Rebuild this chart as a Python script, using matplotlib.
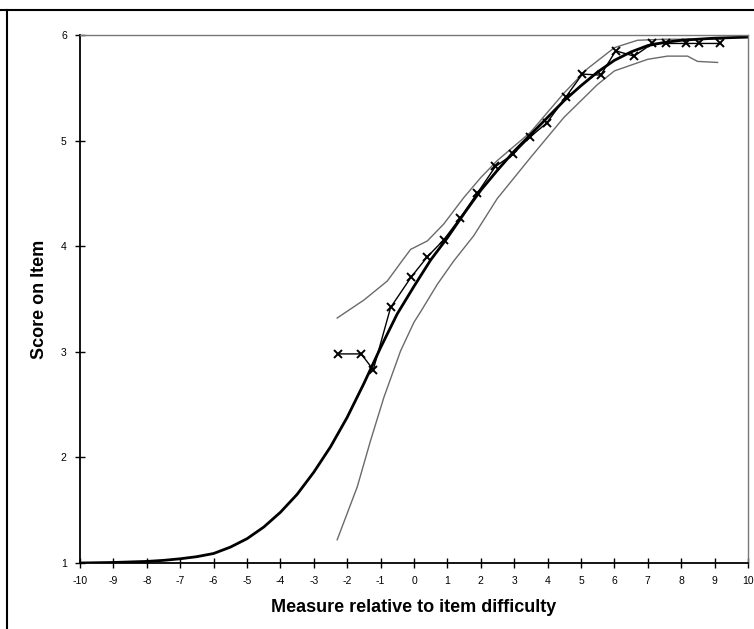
import matplotlib
matplotlib.use("Agg")
import matplotlib.pyplot as plt
from matplotlib.lines import Line2D

plt.rcParams['font.family'] = ['Liberation Sans', 'DejaVu Sans']
plt.rcParams['axes.unicode_minus'] = False

# Expected (model) score curve
model_x = [-10, -9, -8, -7.5, -7, -6.5, -6, -5.5, -5, -4.5, -4, -3.5, -3, -2.5, -2,
           -1.5, -1, -0.5, 0, 0.5, 1, 1.5, 2, 2.5, 3.0, 3.5, 4.0, 4.5, 5.0, 5.5,
           6.0, 6.5, 7.0, 7.5, 8.0, 9.0, 10.0]
model_y = [1.0, 1.005, 1.015, 1.025, 1.04, 1.06, 1.09, 1.15, 1.23, 1.34, 1.48, 1.65,
           1.86, 2.10, 2.38, 2.70, 3.04, 3.36, 3.62, 3.87, 4.08, 4.31, 4.53, 4.72,
           4.90, 5.06, 5.22, 5.38, 5.52, 5.65, 5.76, 5.84, 5.90, 5.93, 5.95, 5.97, 5.98]

# Upper confidence band
upper_x = [-2.3, -1.5, -0.8, -0.36, -0.1, 0.4, 0.89, 1.49, 2.0, 2.49, 3.49, 4.49,
           5.19, 6.0, 6.69, 7.5, 8.5, 9.2]
upper_y = [3.32, 3.49, 3.67, 3.86, 3.97, 4.05, 4.21, 4.46, 4.65, 4.81, 5.08, 5.45,
           5.68, 5.88, 5.95, 5.96, 5.96, 5.96]

# Lower confidence band
lower_x = [-2.3, -1.7, -1.3, -0.9, -0.4, 0.0, 0.2, 0.7, 1.19, 1.79, 2.49, 3.49,
           4.49, 5.49, 6.0, 7.0, 7.59, 8.19, 8.49, 9.09]
lower_y = [1.22, 1.72, 2.16, 2.57, 3.01, 3.28, 3.38, 3.64, 3.86, 4.10, 4.45, 4.84,
           5.22, 5.53, 5.66, 5.77, 5.80, 5.80, 5.75, 5.74]

# Observed scores
obs_x = [-2.27, -1.58, -1.22, -0.70, -0.08, 0.40, 0.89, 1.39, 1.89, 2.44, 2.96,
         3.46, 3.97, 4.54, 5.04, 5.59, 6.04, 6.59, 7.14, 7.54, 8.14, 8.54, 9.17]
obs_y = [2.98, 2.98, 2.83, 3.42, 3.71, 3.90, 4.06, 4.27, 4.50, 4.755, 4.87, 5.03,
         5.165, 5.41, 5.63, 5.62, 5.85, 5.80, 5.92, 5.92, 5.92, 5.92, 5.92]

x_ticks = list(range(-10, 11))
y_ticks = [1, 2, 3, 4, 5, 6]

fig = plt.figure(figsize=(7.54, 6.29), dpi=100)
ax = fig.add_axes([80/754, 1-563/629, (748-80)/754, (563-35)/629])

ax.plot(upper_x, upper_y, color='#6a6a6a', lw=1.0)
ax.plot(lower_x, lower_y, color='#6a6a6a', lw=1.0)
ax.plot(model_x, model_y, color='black', lw=2.0)
ax.plot(obs_x, obs_y, color='black', lw=1.0, marker='x', ms=6, mew=1.4)

ax.set_xlim(-10, 10)
ax.set_ylim(1, 6)
ax.set_xticks(x_ticks)
ax.set_yticks(y_ticks)
ax.tick_params(direction='inout', length=7, width=1, labelsize=7.5, pad=6)

for s in ['left', 'bottom']:
    ax.spines[s].set_color('black')
    ax.spines[s].set_linewidth(1.3)
for s in ['top', 'right']:
    ax.spines[s].set_color('#777777')
    ax.spines[s].set_linewidth(1.0)

ax.set_xlabel('Measure relative to item difficulty', fontsize=13, fontweight='bold', labelpad=9)
ax.set_ylabel('Score on Item', fontsize=13, fontweight='bold', labelpad=9)

# outer frame of the scanned chart
fig.add_artist(Line2D([0, 1], [1-10/629, 1-10/629], transform=fig.transFigure, color='black', lw=1.5))
fig.add_artist(Line2D([7/754, 7/754], [0, 1-10/629], transform=fig.transFigure, color='black', lw=1.5))

fig.savefig('out.png', dpi=100)
